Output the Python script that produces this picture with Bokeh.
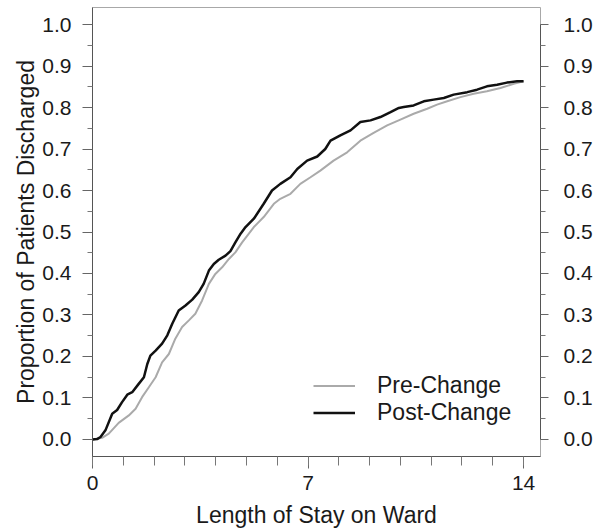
from bokeh.plotting import figure
from bokeh.models import (Range1d, LinearAxis, FixedTicker, PrintfTickFormatter,
                          Legend, LegendItem)
from bokeh.embed import file_html
from bokeh.resources import INLINE

# ---- data ----
post_days = [0, 0.15, 0.26, 0.42, 0.64, 0.80, 0.96, 1.13, 1.29, 1.50, 1.67, 1.78,
             1.88, 2.05, 2.26, 2.43, 2.59, 2.80, 3.02, 3.24, 3.45, 3.61, 3.78,
             3.94, 4.10, 4.32, 4.48, 4.64, 4.81, 4.97, 5.24, 5.56, 5.83, 6.10,
             6.43, 6.65, 6.97, 7.30, 7.56, 7.73, 8.05, 8.38, 8.70, 9.03, 9.35,
             9.68, 9.95, 10.11, 10.43, 10.76, 11.08, 11.41, 11.73, 12.17, 12.49,
             12.81, 13.14, 13.46, 13.79, 14.0]
post_prop = [0, 0.001, 0.006, 0.022, 0.062, 0.071, 0.090, 0.108, 0.114, 0.134,
             0.150, 0.182, 0.202, 0.214, 0.231, 0.251, 0.279, 0.311, 0.323, 0.337,
             0.355, 0.375, 0.407, 0.423, 0.433, 0.443, 0.454, 0.475, 0.496, 0.512,
             0.532, 0.568, 0.600, 0.616, 0.632, 0.652, 0.672, 0.682, 0.700, 0.720,
             0.733, 0.745, 0.765, 0.769, 0.777, 0.789, 0.799, 0.801, 0.805, 0.815,
             0.819, 0.823, 0.831, 0.837, 0.843, 0.851, 0.855, 0.860, 0.863, 0.863]

pre_days = [0, 0.31, 0.53, 0.85, 1.18, 1.40, 1.61, 1.83, 2.05, 2.26, 2.48, 2.69,
            2.91, 3.13, 3.34, 3.56, 3.78, 3.99, 4.21, 4.43, 4.64, 4.86, 5.24,
            5.56, 5.89, 6.10, 6.43, 6.75, 7.08, 7.40, 7.83, 8.27, 8.70, 9.13,
            9.57, 10.0, 10.43, 10.87, 11.19, 11.52, 11.95, 12.38, 12.81, 13.25,
            13.68, 14.0]
pre_prop = [0, 0.004, 0.014, 0.040, 0.058, 0.074, 0.102, 0.126, 0.150, 0.186,
            0.206, 0.243, 0.271, 0.287, 0.303, 0.335, 0.375, 0.399, 0.415, 0.435,
            0.451, 0.475, 0.512, 0.536, 0.568, 0.580, 0.592, 0.616, 0.632, 0.648,
            0.672, 0.692, 0.720, 0.739, 0.757, 0.771, 0.785, 0.797, 0.807, 0.815,
            0.825, 0.833, 0.839, 0.847, 0.857, 0.863]

x_major = [0, 7, 14]
x_minor = list(range(0, 15))
y_major = [i / 10 for i in range(11)]
y_minor = [i / 10 + 0.05 for i in range(10)]

series_labels = ["Pre-Change", "Post-Change"]
x_title = "Length of Stay on Ward"
y_title = "Proportion of Patients Discharged"

FONT = "Liberation Sans"
TXT = "#1a1a1a"

p = figure(width=601, height=531, output_backend="svg", toolbar_location=None,
           x_range=Range1d(0, 14.55), y_range=Range1d(-0.041, 1.041),
           x_axis_location=None, y_axis_location=None,
           min_border_left=92, min_border_right=61, min_border_top=7,
           min_border_bottom=75)
p.grid.visible = False
p.outline_line_color = "#a8a8a8"
p.outline_line_width = 1
p.background_fill_color = "white"
p.border_fill_color = "white"

pre_r = p.line(pre_days, pre_prop, line_color="#aaaaaa", line_width=2)
post_r = p.line(post_days, post_prop, line_color="#111111", line_width=2.5)

def style_axis(ax, tick_out, minor_out, standoff):
    ax.axis_line_color = "#555555"
    ax.major_tick_line_color = "#666666"
    ax.minor_tick_line_color = "#777777"
    ax.major_tick_in = 0
    ax.minor_tick_in = 0
    ax.major_tick_out = tick_out
    ax.minor_tick_out = minor_out
    ax.major_label_standoff = standoff
    ax.major_label_text_font = FONT
    ax.major_label_text_font_size = "21px"
    ax.major_label_text_color = TXT
    ax.axis_label_text_font = FONT
    ax.axis_label_text_font_size = "23px"
    ax.axis_label_text_font_style = "normal"
    ax.axis_label_text_color = TXT

xax = LinearAxis(ticker=FixedTicker(ticks=x_major, minor_ticks=x_minor),
                 axis_label=x_title)
style_axis(xax, 12, 9, 7)
xax.axis_label_standoff = 9
p.add_layout(xax, "below")

yax = LinearAxis(ticker=FixedTicker(ticks=y_major, minor_ticks=y_minor),
                 formatter=PrintfTickFormatter(format="%.1f"), axis_label=y_title)
style_axis(yax, 10, 5, 11)
yax.axis_label_standoff = 0
p.add_layout(yax, "left")

rax = LinearAxis(ticker=FixedTicker(ticks=y_major, minor_ticks=y_minor),
                 formatter=PrintfTickFormatter(format="%.1f"), bounds=(0, 1))
style_axis(rax, 8, 5, 15)
p.add_layout(rax, "right")

legend = Legend(items=[LegendItem(label=series_labels[0], renderers=[pre_r]),
                       LegendItem(label=series_labels[1], renderers=[post_r])],
                location=(221, 30), border_line_color=None,
                background_fill_alpha=0, padding=0, margin=0, spacing=0,
                glyph_width=42, glyph_height=27, label_height=27,
                label_standoff=22, label_text_font=FONT,
                label_text_font_size="23px", label_text_color=TXT)
p.add_layout(legend, "center")

open("out.html", "w").write(file_html(p, INLINE))
